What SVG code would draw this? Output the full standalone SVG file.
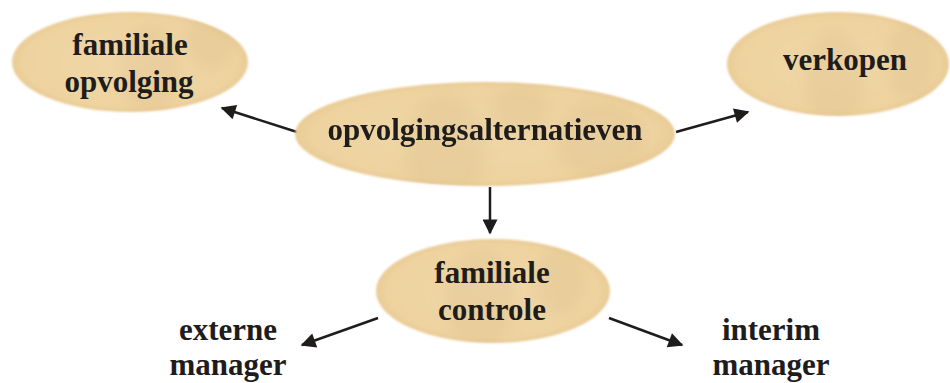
<svg xmlns="http://www.w3.org/2000/svg" width="950" height="383" viewBox="0 0 950 383">
<style>
.lbl{font-family:"Liberation Serif","DejaVu Serif","Times New Roman",serif;font-weight:bold;font-size:31px;fill:#1f1c1c;text-anchor:middle}
.node{fill:url(#g)}
.shade{fill:#cfae7c;opacity:0.16}
.conn line{stroke:#1f1c1c;stroke-width:2.5}
</style>
<defs>
<radialGradient id="g" cx="0.5" cy="0.5" r="0.5">
<stop offset="0" stop-color="#f0d7a7"/>
<stop offset="0.9" stop-color="#eed3a0"/>
<stop offset="1" stop-color="#e9cb95"/>
</radialGradient>
<filter id="soft" x="-5%" y="-10%" width="110%" height="120%"><feGaussianBlur stdDeviation="1"/></filter>
<filter id="blur" x="-50%" y="-50%" width="200%" height="200%"><feGaussianBlur stdDeviation="7"/></filter>
<marker id="ah" viewBox="0 0 10 10" refX="9" refY="5" markerWidth="8" markerHeight="6" markerUnits="strokeWidth" orient="auto">
<path d="M0,0 L10,5 L0,10 z" fill="#1f1c1c"/>
</marker>
<clipPath id="c1"><ellipse cx="130" cy="62" rx="118" ry="50"/></clipPath>
<clipPath id="c2"><ellipse cx="485" cy="134" rx="190" ry="52"/></clipPath>
<clipPath id="c3"><ellipse cx="838" cy="64" rx="111" ry="52"/></clipPath>
<clipPath id="c4"><ellipse cx="493" cy="291" rx="117" ry="52"/></clipPath>
</defs>
<rect width="950" height="383" fill="#ffffff"/>
<g class="conn">
<line x1="297" y1="132" x2="222" y2="108" marker-end="url(#ah)"/>
<line x1="676" y1="132" x2="748" y2="112" marker-end="url(#ah)"/>
<line x1="490" y1="187" x2="490" y2="233" marker-end="url(#ah)"/>
<line x1="378" y1="318" x2="302" y2="345" marker-end="url(#ah)"/>
<line x1="609" y1="318" x2="682" y2="345" marker-end="url(#ah)"/>
</g>
<g id="familiale-opvolging">
<ellipse class="node" cx="130" cy="62" rx="118" ry="50" filter="url(#soft)"/>
<g clip-path="url(#c1)" filter="url(#blur)"><ellipse class="shade" cx="150" cy="70" rx="30" ry="45"/><ellipse class="shade" cx="210" cy="40" rx="25" ry="30"/></g>
<text class="lbl" x="130" y="55">familiale</text>
<text class="lbl" x="129" y="92">opvolging</text>
</g>
<g id="opvolgingsalternatieven">
<ellipse class="node" cx="485" cy="134" rx="190" ry="52" filter="url(#soft)"/>
<g clip-path="url(#c2)" filter="url(#blur)"><ellipse class="shade" cx="445" cy="150" rx="40" ry="55"/><ellipse class="shade" cx="600" cy="140" rx="45" ry="40"/><ellipse class="shade" cx="520" cy="110" rx="30" ry="25"/></g>
<text class="lbl" x="485" y="140">opvolgingsalternatieven</text>
</g>
<g id="verkopen">
<ellipse class="node" cx="838" cy="64" rx="111" ry="52" filter="url(#soft)"/>
<g clip-path="url(#c3)" filter="url(#blur)"><ellipse class="shade" cx="835" cy="80" rx="30" ry="50"/><ellipse class="shade" cx="910" cy="60" rx="25" ry="40"/></g>
<text class="lbl" x="845" y="70">verkopen</text>
</g>
<g id="familiale-controle">
<ellipse class="node" cx="493" cy="291" rx="117" ry="52" filter="url(#soft)"/>
<g clip-path="url(#c4)" filter="url(#blur)"><ellipse class="shade" cx="480" cy="300" rx="35" ry="50"/><ellipse class="shade" cx="560" cy="280" rx="25" ry="35"/></g>
<text class="lbl" x="492" y="283">familiale</text>
<text class="lbl" x="492" y="320">controle</text>
</g>
<g id="externe-manager">
<text class="lbl" x="228" y="340">externe</text>
<text class="lbl" x="228" y="375">manager</text>
</g>
<g id="interim-manager">
<text class="lbl" x="771" y="340">interim</text>
<text class="lbl" x="771" y="375">manager</text>
</g>
</svg>
